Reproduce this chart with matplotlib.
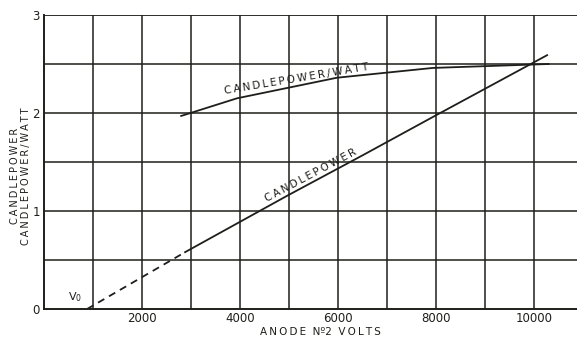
import numpy as np
import matplotlib.pyplot as plt

# candlepower vs anode no.2 volts (dashed part is extrapolated down to V0)
cp_dash_v = [880, 2880]
cp_dash = [0.0, 0.58]
cp_v = [2880, 4980, 6510, 7940, 10270]
cp = [0.58, 1.16, 1.57, 1.96, 2.59]

# candlepower per watt
cpw_v = [2800, 3940, 5980, 7940, 10300]
cpw = [1.97, 2.15, 2.36, 2.46, 2.50]

xticks = [2000, 4000, 6000, 8000, 10000]
yticks = [0, 1, 2, 3]

ink = "#1e1e1a"


def spaced(s):
    # the lettering on the original is widely spaced
    return "\u2009".join(s)


fig = plt.figure(figsize=(5.77, 3.39), dpi=100)
ax = fig.add_axes([44 / 577, 30 / 339, 533 / 577, 294 / 339])

ax.set_xlim(0, 10880)
ax.set_ylim(0, 3)

# hand drawn grid, every 1000 V and every 0.5
for v in np.arange(1000, 10880, 1000):
    ax.axvline(v, color=ink, lw=1.1)
for y in np.arange(0.5, 3.0, 0.5):
    ax.axhline(y, color=ink, lw=1.1)
ax.axhline(3, color=ink, lw=1.3)

ax.plot(cp_dash_v, cp_dash, color=ink, lw=1.3, ls=(0, (4, 3)))
ax.plot(cp_v, cp, color=ink, lw=1.3)
ax.plot(cpw_v, cpw, color=ink, lw=1.3)

ax.text(5150, 2.35, spaced("CANDLEPOWER/WATT"), rotation=9.5,
        fontsize=7.5, ha="center", va="center", color=ink)
ax.text(5450, 1.36, spaced("CANDLEPOWER"), rotation=28, fontsize=7.5,
        ha="center", va="center", color=ink)
ax.text(630, 0.05, "V$_0$", fontsize=8, ha="center", va="bottom", color=ink)

ax.set_xticks(xticks)
ax.set_xticklabels([str(t) for t in xticks], fontsize=8.5, color=ink)
ax.set_yticks(yticks)
ax.set_yticklabels([str(t) for t in yticks], fontsize=8.5, color=ink)
ax.tick_params(axis="x", length=0, pad=2)
ax.tick_params(axis="y", length=0, pad=3)

for side in ["left", "bottom"]:
    ax.spines[side].set_color(ink)
    ax.spines[side].set_linewidth(1.4)
for side in ["top", "right"]:
    ax.spines[side].set_visible(False)

ax.set_xlabel(spaced("ANODE") + "  Nº2  " + spaced("VOLTS"), fontsize=7.5,
              color=ink)
ax.xaxis.set_label_coords(0.518, -0.062)
fig.text(0.036, 0.48, spaced("CANDLEPOWER") + "\n" + spaced("CANDLEPOWER/WATT"),
         rotation=90, fontsize=7, ha="center", va="center", color=ink,
         linespacing=1.15)

fig.savefig("out.png", dpi=100)
